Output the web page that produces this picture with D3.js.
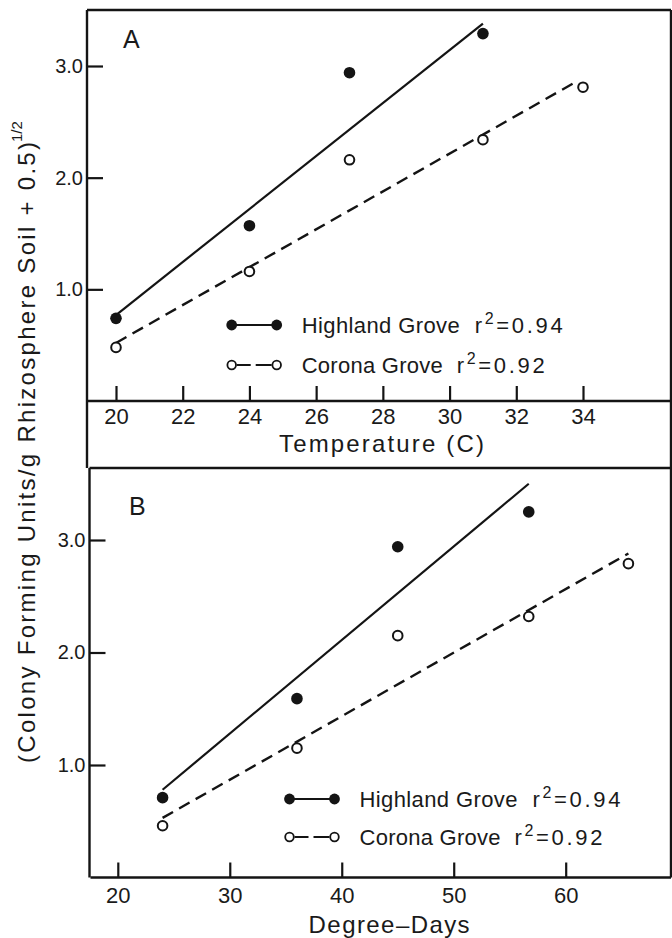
<!DOCTYPE html>
<html><head><meta charset="utf-8">
<script src="https://cdn.jsdelivr.net/npm/d3@7"></script>
<style>
body{margin:0;background:#fff}
svg{display:block;background:#fff}
text{font-family:"Liberation Sans",Arial,sans-serif;fill:#1a1a1a}
</style>
</head><body><svg id="c" width="672" height="938"></svg>
<script>
// ---------- data ----------
const temps = [20, 24, 27, 31, 34];
const degreeDays = [24, 36, 45, 56.7, 65.6];
const highlandA = [0.74, 1.57, 2.94, 3.29];
const coronaA = [0.48, 1.16, 2.16, 2.34, 2.81];
const highlandB = [0.71, 1.59, 2.94, 3.25];
const coronaB = [0.46, 1.15, 2.15, 2.32, 2.79];
// fitted regression lines: [x, y] end points as drawn
const fitHighlandA = [[20, 0.77], [31, 3.38]];
const fitCoronaA = [[20, 0.52], [33.8, 2.86]];
const fitHighlandB = [[24, 0.78], [56.7, 3.50]];
const fitCoronaB = [[24, 0.53], [65.6, 2.88]];
const tempTicks = [20, 22, 24, 26, 28, 30, 32, 34];
const ddTicks = [20, 30, 40, 50, 60];
const yTicks = [1, 2, 3];
const seriesNames = ["Highland Grove", "Corona Grove"];
const r2Values = ["0.94", "0.92"];
const panelLabels = ["A", "B"];
const xTitles = ["Temperature (C)", "Degree\u2013Days"];
const yTitle = "(Colony Forming Units/g Rhizosphere Soil + 0.5)";
const yTitleSup = "1/2";

// ---------- drawing ----------
const svg = d3.select("#c");
const INK = "#141414";

const panels = [
  { x0: 20, x1: 34, px0: 116, px1: 583, py0: 401, py3: 66,
    left: 87, top: 10, right: 671, axisY: 401, bottom: 468, xTicks: tempTicks, xs: temps,
    hi: highlandA, co: coronaA, fitHi: fitHighlandA, fitCo: fitCoronaA,
    label: panelLabels[0], labelPos: [123, 48], legend: [231.7, 325, 40],
    xTitle: xTitles[0], xTitlePos: [279, 451.5, 205], tickPad: 7.5 },
  { x0: 20, x1: 60, px0: 117.8, px1: 565.7, py0: 877.5, py3: 540,
    left: 89.5, top: 468, right: 671, axisY: 877.5, bottom: 877.5, xTicks: ddTicks, xs: degreeDays,
    hi: highlandB, co: coronaB, fitHi: fitHighlandB, fitCo: fitCoronaB,
    label: panelLabels[1], labelPos: [129, 515], legend: [289.5, 799, 38],
    xTitle: xTitles[1], xTitlePos: [308.6, 933, 161], tickPad: 10 }
];

panels.forEach((p, pi) => {
  const x = d3.scaleLinear().domain([p.x0, p.x1]).range([p.px0, p.px1]);
  const y = d3.scaleLinear().domain([0, 3]).range([p.py0, p.py3]);
  const g = svg.append("g");

  // frame lines
  const fr = g.append("g").attr("stroke", INK).attr("stroke-width", 2.4).attr("fill", "none");
  fr.append("line").attr("x1", p.left).attr("x2", p.right).attr("y1", p.top).attr("y2", p.top);
  fr.append("line").attr("x1", p.left).attr("x2", p.left).attr("y1", p.top).attr("y2", p.bottom);
  fr.append("line").attr("x1", p.left + 1).attr("x2", p.right).attr("y1", p.axisY).attr("y2", p.axisY);
  fr.append("line").attr("x1", p.right).attr("x2", p.right).attr("y1", p.top).attr("y2", p.bottom);

  // x axis (ticks inward, labels below)
  const xa = g.append("g").attr("transform", `translate(0,${p.axisY})`)
    .call(d3.axisBottom(x).tickValues(p.xTicks).tickSizeInner(-15).tickSizeOuter(0)
      .tickPadding(p.tickPad).tickFormat(d3.format("d")));
  xa.select(".domain").remove();
  xa.selectAll("line").attr("stroke", INK).attr("stroke-width", 2.2);
  xa.selectAll("text").attr("font-size", 22).attr("fill", "#1a1a1a")
    .attr("font-family", '"Liberation Sans",Arial,sans-serif');

  // y axis (ticks inward, labels left)
  const ya = g.append("g").attr("transform", `translate(${p.left},0)`)
    .call(d3.axisLeft(y).tickValues(yTicks).tickSizeInner(-16).tickSizeOuter(0)
      .tickPadding(4).tickFormat(d3.format(".1f")));
  ya.select(".domain").remove();
  ya.selectAll("line").attr("stroke", INK).attr("stroke-width", 2.2);
  ya.selectAll("text").attr("font-size", 20).attr("fill", "#1a1a1a")
    .attr("font-family", '"Liberation Sans",Arial,sans-serif');

  // panel letter
  g.append("text").attr("x", p.labelPos[0]).attr("y", p.labelPos[1])
    .attr("font-size", 25).text(p.label);

  // x title
  g.append("text").attr("x", p.xTitlePos[0]).attr("y", p.xTitlePos[1])
    .attr("font-size", 24).attr("textLength", p.xTitlePos[2]).attr("lengthAdjust", "spacing")
    .text(p.xTitle);

  // fit lines
  const line = d3.line().x(d => x(d[0])).y(d => y(d[1]));
  g.append("path").datum(p.fitHi).attr("d", line).attr("fill", "none")
    .attr("stroke", INK).attr("stroke-width", 2.2);
  g.append("path").datum(p.fitCo).attr("d", line).attr("fill", "none")
    .attr("stroke", INK).attr("stroke-width", 2.4).attr("stroke-dasharray", "12,7");

  // points
  g.selectAll(".hi").data(p.hi).join("circle")
    .attr("cx", (d, i) => x(p.xs[i])).attr("cy", d => y(d)).attr("r", 5.8).attr("fill", INK);
  g.selectAll(".co").data(p.co).join("circle")
    .attr("cx", (d, i) => x(p.xs[i])).attr("cy", d => y(d)).attr("r", 4.8)
    .attr("fill", "#fff").attr("stroke", INK).attr("stroke-width", 2);

  // legend
  const [lx, ly, gap] = p.legend;
  const lg = g.append("g");
  lg.append("line").attr("x1", lx).attr("x2", lx + 45).attr("y1", ly).attr("y2", ly)
    .attr("stroke", INK).attr("stroke-width", 2.2);
  [lx, lx + 45].forEach(cx => lg.append("circle").attr("cx", cx).attr("cy", ly).attr("r", 5.4).attr("fill", INK));
  const ly2 = ly + gap;
  lg.append("line").attr("x1", lx + 5).attr("x2", lx + 40).attr("y1", ly2).attr("y2", ly2)
    .attr("stroke", INK).attr("stroke-width", 2.2).attr("stroke-dasharray", "14,5,16");
  [lx, lx + 45].forEach(cx => lg.append("circle").attr("cx", cx).attr("cy", ly2).attr("r", 4.3)
    .attr("fill", "#fff").attr("stroke", INK).attr("stroke-width", 1.8));

  const rows = [
    { yb: ly + 8, name: seriesNames[0], nameW: 158, r: 173, rW: 88, r2: r2Values[0] },
    { yb: ly2 + 8, name: seriesNames[1], nameW: 141, r: 155, rW: 88, r2: r2Values[1] }
  ];
  rows.forEach(rw => {
    const tx = lx + 70;
    lg.append("text").attr("x", tx).attr("y", rw.yb).attr("font-size", 22)
      .attr("textLength", rw.nameW).attr("lengthAdjust", "spacing").text(rw.name);
    const t = lg.append("text").attr("x", tx + rw.r).attr("y", rw.yb).attr("font-size", 22)
      .attr("textLength", rw.rW).attr("lengthAdjust", "spacing");
    t.append("tspan").text("r");
    t.append("tspan").attr("dy", -9).attr("font-size", 16).text("2");
    t.append("tspan").attr("dy", 9).text("=" + rw.r2);
  });
});

// shared y title
svg.append("text").attr("transform", "translate(35,763) rotate(-90)")
  .attr("font-size", 24).attr("textLength", 621).attr("lengthAdjust", "spacing").text(yTitle);
svg.append("text").attr("transform", "translate(22,142) rotate(-90)")
  .attr("font-size", 15).text(yTitleSup);
</script>
</body></html>
